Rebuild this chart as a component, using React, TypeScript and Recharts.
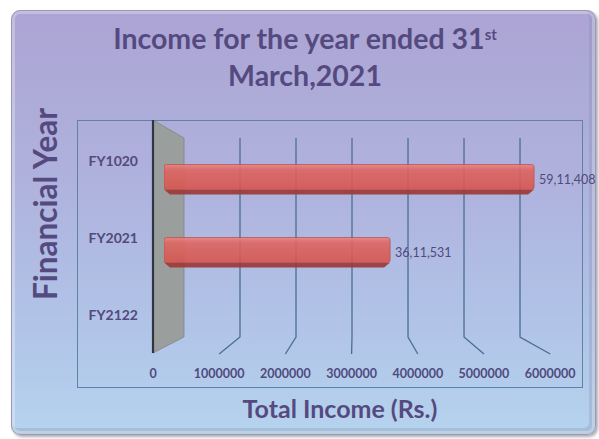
import React from 'react';
import { BarChart, Bar, XAxis, YAxis, LabelList, CartesianGrid } from 'recharts';

// ---- data ----
const categories = ['FY1020', 'FY2021', 'FY2122'];
const incomeValues: (number | null)[] = [5911408, 3611531, null];
const xTicks = [0, 1000000, 2000000, 3000000, 4000000, 5000000, 6000000];

const titleLine1 = 'Income for the year ended 31';
const titleSup = 'st';
const titleLine2 = 'March,2021';
const yTitle = 'Financial Year';
const xTitle = 'Total Income (Rs.)';

const data = categories.map((c, i) => ({ year: c, income: incomeValues[i] }));

// ---- layout ----
const W = 599;
const H = 439;
const Y_AXIS_W = 60;
const X_AXIS_H = 30;
const MARGIN = { top: 142.5, right: 59.4, bottom: 77.5 - X_AXIS_H, left: 164 - Y_AXIS_W };
const PLOT_LEFT = MARGIN.left + Y_AXIS_W;
const FONT = 'Lato, "Open Sans", sans-serif';
const TEXT = '#554a80';

// perspective planes (back wall / front floor edge)
const BACK = { x0: 184, k: 0.8946, top: 138, bottom: 337 };
const FRONT = { x0: 153, k: 1.0575, top: 120, bottom: 354 };
const toBack = (x: number) => BACK.x0 + (x - PLOT_LEFT) * BACK.k;
const toFront = (x: number) => FRONT.x0 + (x - PLOT_LEFT) * FRONT.k;

const fmtIndian = (n: number) => {
  const s = String(Math.round(n));
  const last3 = s.slice(-3);
  let rest = s.slice(0, -3);
  const parts: string[] = [];
  while (rest.length > 2) {
    parts.unshift(rest.slice(-2));
    rest = rest.slice(0, -2);
  }
  if (rest) parts.unshift(rest);
  return parts.length ? parts.join(',') + ',' + last3 : last3;
};

// vertical grid line drawn in perspective; the zero line becomes the grey wall
const GridLine3D = (props: any) => {
  const { x1 } = props;
  if (x1 == null || isNaN(x1)) return null;
  const bx = toBack(x1);
  const fx = toFront(x1);
  if (Math.abs(x1 - PLOT_LEFT) < 0.5) {
    return (
      <g key={`wall`}>
        <polygon
          points={`${fx},${FRONT.top} ${bx},${BACK.top} ${bx},${BACK.bottom} ${fx},${FRONT.bottom - 1}`}
          fill="#9a9f9e"
          stroke="#7f8687"
          strokeWidth={0.8}
        />
        <line x1={fx} y1={FRONT.top} x2={fx} y2={FRONT.bottom - 1} stroke="#2e3640" strokeWidth={2.2} />
      </g>
    );
  }
  return (
    <polyline
      key={`g${x1}`}
      points={`${bx},${BACK.top} ${bx},${BACK.bottom} ${fx},${FRONT.bottom}`}
      fill="none"
      stroke="#4b6e94"
      strokeWidth={1.3}
    />
  );
};

const XTick = (props: any) => {
  const { x, payload } = props;
  const fx = toFront(x);
  return (
    <text
      x={fx}
      y={378}
      textAnchor="middle"
      fontFamily={FONT}
      fontWeight="bold"
      fontSize={12.5}
      fill="#4f4a7e"
    >
      {payload.value}
    </text>
  );
};

const YTick = (props: any) => {
  const { y, payload } = props;
  const ly = -27.8 + y * 1.055;
  return (
    <text
      x={138}
      y={ly}
      dy="0.36em"
      textAnchor="end"
      fontFamily={FONT}
      fontWeight="bold"
      fontSize={14}
      fill="#54497e"
    >
      {payload.value}
    </text>
  );
};

const Bar3D = (props: any) => {
  const { x, y, width, height, index } = props;
  if (!width || width <= 0) return null;
  const face = height - 5;
  const d = 6;
  const gid = `barGrad${index}`;
  return (
    <g opacity={0.9}>
      <defs>
        <linearGradient id={gid} x1="0" y1="0" x2="0" y2="1">
          <stop offset="0%" stopColor="#e98580" />
          <stop offset="22%" stopColor="#df6561" />
          <stop offset="100%" stopColor="#d6564f" />
        </linearGradient>
      </defs>
      <path
        d={`M${x},${y + face} L${x + width},${y + face} L${x + width - d},${y + height} L${x + d},${y + height} Z`}
        fill="#9e3836"
      />
      <rect x={x} y={y} width={width} height={face} rx={2.5} fill={`url(#${gid})`} stroke="#c04a47" strokeWidth={0.8} />
    </g>
  );
};

const ValueLabel = (props: any) => {
  const { x, y, width, height, value } = props;
  if (value == null) return null;
  return (
    <text
      x={x + width + 5}
      y={y + height / 2}
      dy="0.36em"
      fontFamily={FONT}
      fontSize={12.5}
      fill="#4e4a7c"
    >
      {fmtIndian(value)}
    </text>
  );
};

export default function App() {
  return (
    <div style={{ position: 'absolute', left: 0, top: 0, width: W, height: H, background: '#ffffff', overflow: 'hidden' }}>
      <div
        style={{
          position: 'absolute',
          left: 11,
          top: 10,
          width: 583,
          height: 423,
          borderRadius: 9,
          background: 'linear-gradient(to bottom, #aca4d4 0%, #afb2dd 40%, #b1c4e8 75%, #b5d3ee 100%)',
          border: '1px solid #9c98b8',
          boxShadow: 'inset 0 0 0 3px rgba(255,255,255,0.28), inset -3px -3px 0 3px rgba(120,130,160,0.25), 2px 2px 3px rgba(90,90,110,0.5)',
        }}
      />
      <div
        style={{
          position: 'absolute',
          left: 77,
          top: 120,
          width: 504,
          height: 266,
          border: '1.3px solid #5d84a6',
        }}
      />
      <div
        style={{
          position: 'absolute',
          left: 11,
          top: 20,
          width: 588,
          textAlign: 'center',
          fontFamily: FONT,
          fontWeight: 'bold',
          fontSize: 28.5,
          lineHeight: '37px',
          color: TEXT,
        }}
      >
        <div>
          {titleLine1}
          <sup style={{ fontSize: 15, verticalAlign: 'top', position: 'relative', top: -4 }}>{titleSup}</sup>
        </div>
        <div>{titleLine2}</div>
      </div>
      <div
        style={{
          position: 'absolute',
          left: 45,
          top: 204,
          transform: 'translate(-50%, -50%) rotate(-90deg)',
          whiteSpace: 'nowrap',
          fontFamily: FONT,
          fontWeight: 'bold',
          fontSize: 31.5,
          color: TEXT,
        }}
      >
        {yTitle}
      </div>
      <div
        style={{
          position: 'absolute',
          left: 340,
          top: 408,
          transform: 'translate(-50%, -50%)',
          whiteSpace: 'nowrap',
          fontFamily: FONT,
          fontWeight: 'bold',
          fontSize: 25,
          color: TEXT,
        }}
      >
        {xTitle}
      </div>
      <div style={{ position: 'absolute', left: 0, top: 0 }}>
        <BarChart width={W} height={H} data={data} layout="vertical" margin={MARGIN}>
          <CartesianGrid horizontal={false} vertical={(p: any) => <GridLine3D {...p} />} />
          <XAxis
            type="number"
            domain={[0, 6000000]}
            ticks={xTicks}
            interval={0}
            axisLine={false}
            tickLine={false}
            height={X_AXIS_H}
            tick={<XTick />}
            allowDataOverflow
          />
          <YAxis
            type="category"
            dataKey="year"
            axisLine={false}
            tickLine={false}
            width={Y_AXIS_W}
            tick={<YTick />}
            interval={0}
          />
          <Bar dataKey="income" barSize={30} shape={<Bar3D />} isAnimationActive={false}>
            <LabelList dataKey="income" content={<ValueLabel />} />
          </Bar>
        </BarChart>
      </div>
    </div>
  );
}
